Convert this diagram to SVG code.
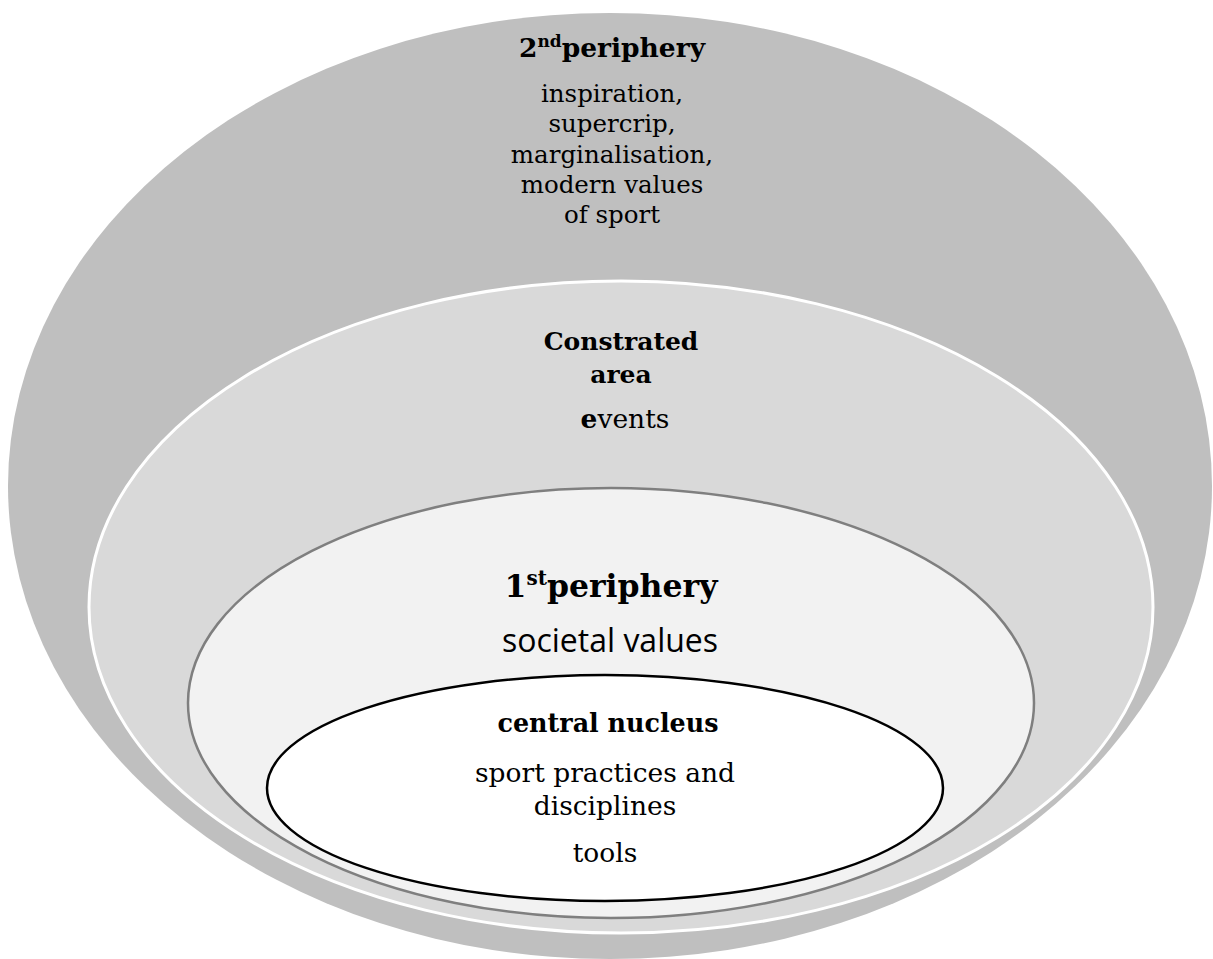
<svg xmlns="http://www.w3.org/2000/svg" width="1213" height="959" viewBox="0 0 1213 959">
<style>
.serif{font-family:"DejaVu Serif","Liberation Serif",serif;fill:#000;text-anchor:middle}
.sans{font-family:"Open Sans","Liberation Sans",sans-serif;fill:#000;text-anchor:middle}
.b{font-weight:bold}
</style>
<rect width="1213" height="959" fill="#fff"/>
<g id="outer">
<ellipse cx="610" cy="486" rx="602" ry="473" fill="#bfbfbf"/>
<text class="serif b" x="612" y="57" font-size="26.5">2<tspan font-size="17" dy="-10">nd</tspan><tspan dy="10">periphery</tspan></text>
<text class="serif" font-size="24.5"><tspan x="612" y="102">inspiration,</tspan><tspan x="612" y="132">supercrip,</tspan><tspan x="612" y="163">marginalisation,</tspan><tspan x="612" y="193">modern values</tspan><tspan x="612" y="223">of sport</tspan></text>
</g>
<g id="contrasted">
<ellipse cx="621" cy="607" rx="532" ry="326" fill="#d9d9d9" stroke="#fff" stroke-width="3"/>
<text class="serif b" font-size="25"><tspan x="621" y="350">Constrated</tspan><tspan x="621" y="383">area</tspan></text>
<text class="serif" x="625" y="428" font-size="26.5"><tspan class="b">e</tspan>vents</text>
</g>
<g id="first">
<ellipse cx="611" cy="703" rx="423" ry="215" fill="#f2f2f2" stroke="#7f7f7f" stroke-width="2.5"/>
<text class="serif b" x="611" y="597" font-size="31.5">1<tspan font-size="20" dy="-12">st</tspan><tspan dy="12">periphery</tspan></text>
<text class="sans" x="610" y="652" font-size="32">societal values</text>
</g>
<g id="nucleus">
<ellipse cx="605" cy="788" rx="338" ry="113" fill="#fff" stroke="#000" stroke-width="2.5"/>
<text class="serif b" x="608" y="732" font-size="25.4">central nucleus</text>
<text class="serif" font-size="26.5"><tspan x="605" y="782">sport practices and</tspan><tspan x="605" y="815">disciplines</tspan><tspan x="605" y="862">tools</tspan></text>
</g>
<g id="connectors"/>
</svg>
